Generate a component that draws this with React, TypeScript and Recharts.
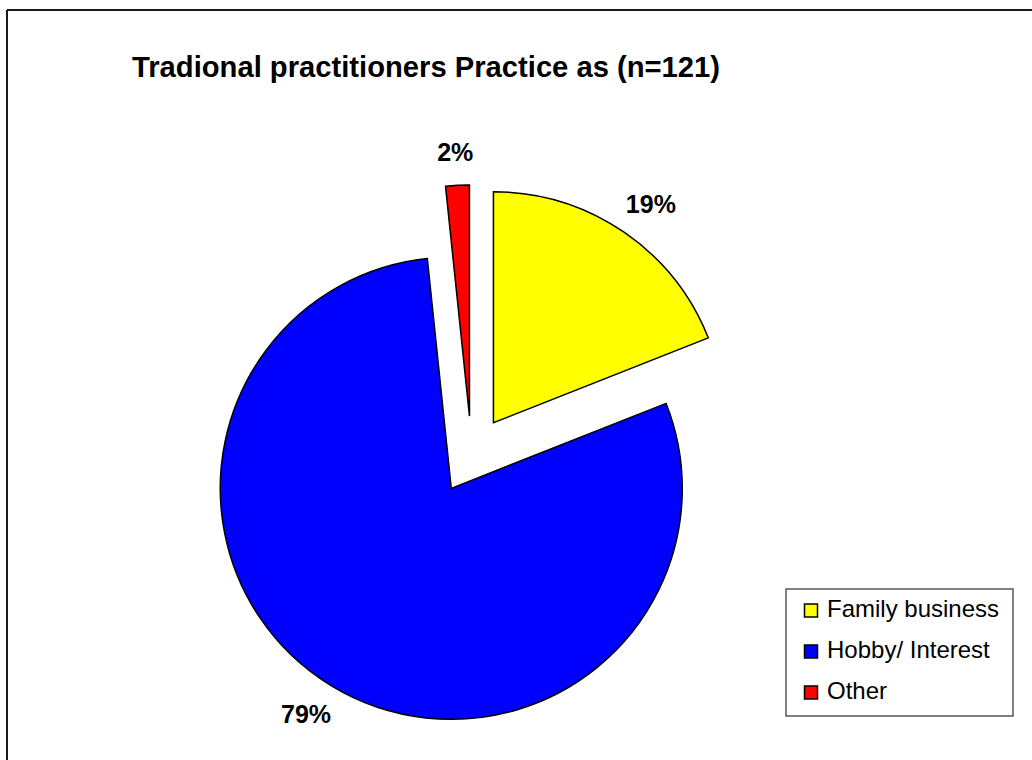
import React from 'react';
import { PieChart, Pie, Cell } from 'recharts';

// respondents per answer (n=121)
const categories = ['Family business', 'Hobby/ Interest', 'Other'];
const counts = [23, 96, 2];
const colors = ['#ffff00', '#0000ff', '#ff0000'];
const chartTitle = 'Tradional practitioners Practice as (n=121)';

const data = categories.map((name, i) => ({ name, value: counts[i] }));

const W = 1032;
const H = 760;
const CX = 466.5;
const CY = 450;
const RADIUS = 231;
const EXPLODE = 39;
const FONT = '"Liberation Sans", Arial, sans-serif';
const LABEL_SIZE = 25;

// each slice is pushed out along its own middle angle
const total = counts.reduce((a, b) => a + b, 0);
let acc = 0;
const offsets = counts.map((v) => {
  const mid = 90 - (360 * (acc + v / 2)) / total;
  acc += v;
  const rad = (mid * Math.PI) / 180;
  return { dx: EXPLODE * Math.cos(rad), dy: -EXPLODE * Math.sin(rad) };
});

const makeLabel = (slice: number) => (props: any) => {
  if (props.index !== slice) return null;
  const { cx, cy, midAngle, outerRadius, percent } = props;
  const rad = (-midAngle * Math.PI) / 180;
  const ux = Math.cos(rad);
  const uy = Math.sin(rad);
  const text = `${Math.round(percent * 100)}%`;
  const w = LABEL_SIZE * (0.556 * (text.length - 1) + 0.889);
  const capH = LABEL_SIZE * 0.716;
  const px = cx + (outerRadius + 24) * ux + (w / 2) * ux;
  const py = cy + (outerRadius + 24) * uy + (capH / 2) * uy;
  return (
    <text
      x={px}
      y={py + capH / 2}
      textAnchor="middle"
      fontFamily={FONT}
      fontSize={LABEL_SIZE}
      fontWeight="bold"
      fill="#000"
    >
      {text}
    </text>
  );
};

const Legend: React.FC = () => (
  <g>
    <rect x={786} y={589} width={227} height={127} fill="#fff" stroke="#555" strokeWidth={1.5} />
    {categories.map((name, i) => (
      <g key={name}>
        <rect
          x={804.5}
          y={604 + i * 41}
          width={13}
          height={13}
          fill={colors[i]}
          stroke="#000"
          strokeWidth={1.5}
        />
        <text x={827} y={617 + i * 41} fontFamily={FONT} fontSize={24} fill="#000">
          {name}
        </text>
      </g>
    ))}
  </g>
);

const App: React.FC = () => {
  return (
    <div style={{ position: 'relative', width: W, height: H, overflow: 'hidden', background: '#fff' }}>
      <style>{'body{margin:0}'}</style>
      <div style={{ position: 'absolute', left: 0, top: 0 }}>
        <PieChart width={W} height={H}>
          {counts.map((_, slice) => (
            <Pie
              key={slice}
              data={data}
              dataKey="value"
              nameKey="name"
              cx={CX + offsets[slice].dx}
              cy={CY + offsets[slice].dy}
              innerRadius={0}
              outerRadius={RADIUS}
              startAngle={90}
              endAngle={-270}
              isAnimationActive={false}
              label={makeLabel(slice)}
              labelLine={false}
            >
              {data.map((d, i) => (
                <Cell
                  key={d.name}
                  fill={i === slice ? colors[i] : 'transparent'}
                  stroke={i === slice ? '#000' : 'none'}
                  strokeWidth={1.5}
                />
              ))}
            </Pie>
          ))}
        </PieChart>
      </div>
      <svg
        width={W}
        height={H}
        style={{ position: 'absolute', left: 0, top: 0, pointerEvents: 'none' }}
      >
        <line x1={7} y1={10} x2={W} y2={10} stroke="#1a1a1a" strokeWidth={2} />
        <line x1={7} y1={10} x2={7} y2={H} stroke="#1a1a1a" strokeWidth={2} />
        <text x={132} y={77} fontFamily={FONT} fontSize={29.2} fontWeight="bold" fill="#000">
          {chartTitle}
        </text>
        <Legend />
      </svg>
    </div>
  );
};

export default App;
